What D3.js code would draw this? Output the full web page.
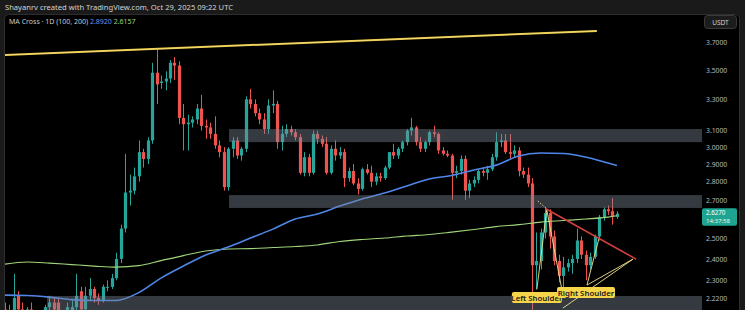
<!DOCTYPE html>
<html>
<head>
<meta charset="utf-8">
<script src="https://cdn.jsdelivr.net/npm/d3@7"></script>
<style>
body { margin: 0; background: #1a1a1a; overflow: hidden; }
text { font-family: "Noto Sans", sans-serif; }
</style>
</head>
<body>
<div id="chart"></div>
<script>

// daily candles, one per day from firstDay
var firstDay = "2025-06-14";
var opens  = [2.17,2.16,2.15,2.23,2.17,2.15,2.17,2.10,2.06,1.96,2.18,2.20,2.20,2.13,2.12,2.14,2.18,2.25,2.17,2.23,2.26,2.22,2.21,2.27,2.27,2.31,2.40,2.55,2.74,2.75,
              2.83,2.97,2.93,3.04,3.48,3.41,3.42,3.44,3.55,3.53,3.18,3.14,3.15,3.17,3.24,3.13,3.12,3.08,3.01,2.97,2.77,2.99,3.04,2.95,2.99,3.30,3.27,3.21,3.17,3.11,
              3.26,3.27,3.03,3.08,3.11,3.09,3.06,2.85,2.94,2.85,3.08,3.05,3.02,2.85,2.99,2.95,2.97,2.82,2.86,2.79,2.76,2.87,2.85,2.80,2.83,2.82,2.88,2.97,2.95,2.99,
              3.03,3.10,3.12,3.03,2.99,3.03,3.09,3.08,2.98,2.96,2.95,2.85,2.86,2.93,2.75,2.79,2.81,2.86,2.85,2.87,2.94,3.03,3.04,2.97,2.96,2.98,2.86,2.84,2.79,2.37,
              2.39,2.53,2.63,2.51,2.39,2.32,2.36,2.38,2.40,2.49,2.42,2.37,2.41,2.51,2.61,2.65,2.64,2.61];
var highs  = [2.20,2.19,2.33,2.25,2.20,2.18,2.20,2.13,2.09,2.19,2.23,2.22,2.22,2.16,2.20,2.21,2.33,2.27,2.27,2.31,2.27,2.24,2.28,2.30,2.33,2.43,2.57,2.96,2.84,2.88,
              3.04,2.99,3.06,3.55,3.65,3.46,3.49,3.57,3.59,3.56,3.27,3.20,3.19,3.27,3.33,3.17,3.15,3.19,3.04,3.00,3.00,3.06,3.06,3.00,3.32,3.37,3.30,3.24,3.21,3.30,
              3.36,3.29,3.13,3.14,3.13,3.11,3.08,2.97,2.96,3.10,3.10,3.07,3.06,3.01,3.04,3.00,2.99,2.88,2.90,2.82,2.88,2.90,2.89,2.85,2.85,2.89,2.97,3.02,3.00,3.04,
              3.11,3.18,3.13,3.06,3.04,3.10,3.13,3.09,3.00,2.98,2.96,2.89,2.95,2.95,2.81,2.83,2.87,2.88,2.89,2.96,3.09,3.08,3.08,3.08,3.01,3.00,2.88,2.88,2.82,2.53,
              2.55,2.66,2.65,2.54,2.42,2.41,2.40,2.42,2.55,2.51,2.44,2.43,2.52,2.62,2.66,2.67,2.71,2.64];
var lows   = [2.13,2.12,2.14,2.14,2.12,2.12,2.08,2.03,1.90,1.92,2.13,2.15,2.10,2.10,2.11,2.13,2.16,2.15,2.16,2.21,2.20,2.19,2.20,2.25,2.26,2.30,2.38,2.53,2.67,2.73,
              2.80,2.88,2.90,3.02,3.27,3.37,3.36,3.41,3.43,3.14,2.98,2.98,3.12,3.14,3.10,3.05,3.05,2.99,2.94,2.75,2.75,2.94,2.93,2.92,2.97,3.24,3.19,3.14,3.08,3.08,
              3.21,2.99,2.98,3.06,3.07,3.04,2.84,2.83,2.83,2.84,3.02,3.00,2.84,2.84,2.92,2.93,2.77,2.80,2.78,2.73,2.75,2.84,2.77,2.78,2.80,2.81,2.87,2.93,2.93,2.97,
              3.01,3.07,3.01,2.97,2.97,3.01,3.06,2.96,2.95,2.94,2.70,2.82,2.84,2.70,2.71,2.77,2.79,2.83,2.81,2.86,2.92,3.00,2.96,2.93,2.94,2.83,2.82,2.77,1.77,2.26,
              2.35,2.50,2.45,2.37,2.29,2.22,2.34,2.33,2.38,2.40,2.30,2.35,2.40,2.49,2.59,2.62,2.57,2.60];
var closes = [2.16,2.15,2.22,2.17,2.15,2.17,2.10,2.06,1.96,2.18,2.20,2.17,2.13,2.12,2.18,2.18,2.23,2.17,2.23,2.26,2.22,2.21,2.27,2.27,2.31,2.40,2.55,2.74,2.75,2.83,
              2.97,2.93,3.04,3.48,3.40,3.42,3.44,3.55,3.53,3.18,3.14,3.15,3.17,3.24,3.13,3.12,3.08,3.01,2.97,2.77,2.99,3.04,2.95,2.99,3.30,3.27,3.21,3.17,3.11,3.26,
              3.27,3.03,3.08,3.11,3.09,3.06,2.85,2.94,2.85,3.08,3.05,3.02,2.85,2.99,2.95,2.97,2.82,2.86,2.79,2.76,2.87,2.85,2.80,2.83,2.82,2.88,2.97,2.95,2.99,3.03,
              3.10,3.12,3.03,2.99,3.03,3.09,3.08,2.98,2.96,2.95,2.85,2.86,2.93,2.75,2.79,2.81,2.86,2.85,2.87,2.94,3.03,3.04,2.97,2.96,2.98,2.86,2.84,2.79,2.37,2.39,
              2.53,2.63,2.51,2.39,2.32,2.36,2.38,2.40,2.49,2.42,2.37,2.41,2.51,2.61,2.65,2.64,2.61,2.627];

// moving averages
var maDates = ["2025-06-14","2025-06-19","2025-06-24","2025-06-29","2025-07-04","2025-07-09","2025-07-14","2025-07-19","2025-07-24","2025-07-29",
               "2025-08-03","2025-08-08","2025-08-13","2025-08-18","2025-08-23","2025-08-28","2025-09-02","2025-09-07","2025-09-12","2025-09-17",
               "2025-09-22","2025-09-27","2025-10-02","2025-10-07","2025-10-12","2025-10-17","2025-10-22","2025-10-27","2025-10-29"];
var ma100 = [2.233,2.231,2.224,2.213,2.209,2.209,2.244,2.310,2.366,2.419,2.458,2.502,2.547,2.599,2.625,2.667,2.705,2.737,2.776,2.815,
             2.835,2.866,2.894,2.947,2.965,2.962,2.941,2.906,2.892];
var ma200 = [2.375,2.385,2.380,2.373,2.366,2.361,2.368,2.392,2.416,2.438,2.448,2.450,2.455,2.460,2.468,2.485,2.495,2.502,2.512,2.520,
             2.532,2.545,2.560,2.570,2.583,2.591,2.599,2.609,2.6157];

var priceTicks = [3.7, 3.5, 3.3, 3.1, 3.0, 2.9, 2.8, 2.7, 2.5, 2.4, 2.3, 2.22];

// drawings
var zones = [
  {from: "2025-08-03T05:00", top: 3.110, bottom: 3.030},
  {from: "2025-08-03T05:00", top: 2.726, bottom: 2.657},
  {from: "2025-06-23T12:00", top: 2.229, bottom: 2.10}
];
var topTrend = [["2025-06-14T02:00", 3.605], ["2025-10-24T12:00", 3.782]];
var neckline = [["2025-10-13T02:00", 2.653], ["2025-11-02T07:00", 2.399]];
var patternLines = [
  [["2025-10-11T02:00", 2.258], ["2025-10-13T07:00", 2.648], ["2025-10-16T22:00", 2.233]],
  [["2025-10-22T07:00", 2.278], ["2025-10-25T00:00", 2.502]],
  [["2025-10-22T07:00", 2.278], ["2025-11-01T14:00", 2.399]],
  [["2025-10-16T22:00", 2.176], ["2025-11-01T14:00", 2.399]]
];
var dottedLine = [["2025-10-11T07:00", 2.694], ["2025-10-13T07:00", 2.653]];
var labels = [
  {text: "Left Shoulder", at: "2025-10-11T02:00", price: 2.222},
  {text: "Right Shoulder", at: "2025-10-22T02:00", price: 2.244}
];

var wd = 745, ht = 310;
var parseDay = d3.utcParse("%Y-%m-%d");
var parseHour = d3.utcParse("%Y-%m-%dT%H:%M");
var day0 = parseDay(firstDay);

var candles = opens.map(function (o, i) {
  return {date: d3.utcDay.offset(day0, i), o: o, h: highs[i], l: lows[i], c: closes[i]};
});

var x = d3.scaleUtc()
  .domain([day0, d3.utcHour.offset(day0, 155 * 24 + 14)])
  .range([4.6, 700]);
var y = d3.scaleLog()
  .domain([2.22, 3.7])
  .range([298, 42]);

var svg = d3.select('#chart')
  .append("svg")
  .attr("width", wd)
  .attr("height", ht);

// header
svg.append("text")
  .attr("x", 5).attr("y", 10)
  .attr("font-size", 7.6)
  .attr("fill", "#d4d4d4")
  .text("Shayanrv created with TradingView.com, Oct 29, 2025 09:22 UTC");

// panel
svg.append("rect")
  .attr("x", 4.5).attr("y", 14.5)
  .attr("width", 735).attr("height", 300)
  .attr("rx", 4)
  .attr("fill", "#000")
  .attr("stroke", "#2e2e2e");

svg.append("clipPath").attr("id", "plotClip")
  .append("rect")
  .attr("x", 5).attr("y", 15)
  .attr("width", 697).attr("height", 295);

var plot = svg.append("g").attr("clip-path", "url(#plotClip)");

// candles
var cw = 3.2;
var candle = plot.selectAll('.candle')
  .data(candles)
  .enter()
  .append('g')
  .attr('class', 'candle')
  .attr('fill', function (d) { return d.c >= d.o ? "#26a69a" : "#ef5350"; })
  .attr('stroke', function (d) { return d.c >= d.o ? "#26a69a" : "#ef5350"; });

candle.append('line')
  .attr('x1', function (d) { return Math.round(x(d.date)) + 0.5; })
  .attr('x2', function (d) { return Math.round(x(d.date)) + 0.5; })
  .attr('y1', function (d) { return y(d.h); })
  .attr('y2', function (d) { return y(d.l); })
  .attr('stroke-width', 1);

candle.append('rect')
  .attr('x', function (d) { return Math.round(x(d.date)) + 0.5 - cw / 2; })
  .attr('y', function (d) { return y(Math.max(d.o, d.c)); })
  .attr('width', cw)
  .attr('height', function (d) { return Math.max(1, Math.abs(y(d.o) - y(d.c))); })
  .attr('stroke', 'none');

// moving averages
var maLine = d3.line()
  .x(function (d) { return x(parseDay(d[0])); })
  .y(function (d) { return y(d[1]); })
  .curve(d3.curveMonotoneX);

plot.append('path')
  .datum(d3.zip(maDates, ma200))
  .attr('d', maLine)
  .attr('fill', 'none')
  .attr('stroke', '#9fd47a')
  .attr('stroke-width', 1.1);

plot.append('path')
  .datum(d3.zip(maDates, ma100))
  .attr('d', maLine)
  .attr('fill', 'none')
  .attr('stroke', '#4f86e8')
  .attr('stroke-width', 1.6);

// zones
plot.selectAll('.zone')
  .data(zones)
  .enter()
  .append('rect')
  .attr('class', 'zone')
  .attr('x', function (d) { return x(parseHour(d.from)); })
  .attr('y', function (d) { return y(d.top); })
  .attr('width', function (d) { return 702 - x(parseHour(d.from)); })
  .attr('height', function (d) { return y(d.bottom) - y(d.top); })
  .attr('fill', 'rgba(125,138,152,0.42)');

var drawLine = d3.line()
  .x(function (d) { return x(parseHour(d[0])); })
  .y(function (d) { return y(d[1]); });

// top trend line
plot.append('path')
  .datum(topTrend)
  .attr('d', drawLine)
  .attr('stroke', '#e9c53b')
  .attr('stroke-width', 2)
  .attr('fill', 'none');
plot.append('path')
  .datum(topTrend)
  .attr('d', drawLine)
  .attr('stroke', '#fff6c8')
  .attr('stroke-width', 0.7)
  .attr('opacity', 0.6)
  .attr('fill', 'none');

// pattern
plot.selectAll('.pattern')
  .data(patternLines)
  .enter()
  .append('path')
  .attr('class', 'pattern')
  .attr('d', drawLine)
  .attr('stroke', '#f3e28e')
  .attr('stroke-width', 0.9)
  .attr('fill', 'none');

plot.append('path')
  .datum(dottedLine)
  .attr('d', drawLine)
  .attr('stroke', '#f3e28e')
  .attr('stroke-width', 0.9)
  .attr('stroke-dasharray', '1.5,1.5')
  .attr('fill', 'none');

plot.append('path')
  .datum(neckline)
  .attr('d', drawLine)
  .attr('stroke', '#d2403f')
  .attr('stroke-width', 1.6)
  .attr('fill', 'none');

var lab = plot.selectAll('.patLabel')
  .data(labels)
  .enter()
  .append('g')
  .attr('class', 'patLabel')
  .attr('transform', function (d) { return 'translate(' + x(parseHour(d.at)) + ',' + y(d.price) + ')'; });
lab.append('rect')
  .attr('x', function (d) { return d.text.length === 13 ? -25 : -29; })
  .attr('y', -5.5)
  .attr('width', function (d) { return d.text.length === 13 ? 50 : 58; })
  .attr('height', 11)
  .attr('rx', 2)
  .attr('fill', '#f7d54a');
lab.append('text')
  .attr('text-anchor', 'middle')
  .attr('y', 3)
  .attr('font-size', 7.8)
  .attr('font-weight', 600)
  .attr('fill', '#1a1a1a')
  .text(function (d) { return d.text; });

// legend
var legend = svg.append('text')
  .attr('x', 9).attr('y', 24)
  .attr('font-size', 7)
  .attr('fill', '#c8c8c8');
legend.append('tspan').text("MA Cross \u00b7 1D (100, 200) ");
legend.append('tspan').attr('fill', '#6f93e6').text(d3.format(".4f")(ma100[ma100.length - 1]) + " ");
legend.append('tspan').attr('fill', '#9fd47a').text(d3.format(".4f")(ma200[ma200.length - 1]));

// price axis
var axis = svg.append('g')
  .attr('transform', 'translate(702,0)')
  .call(d3.axisRight(y).tickValues(priceTicks).tickFormat(d3.format(".4f")).tickSize(0).tickPadding(4));
axis.select('.domain').remove();
axis.selectAll('text')
  .attr('font-size', 6.8)
  .attr('fill', '#b8b8b8')
  .style('font-family', '"Noto Sans", sans-serif');

// currency box
svg.append('rect')
  .attr('x', 704.5).attr('y', 15.5)
  .attr('width', 32).attr('height', 13)
  .attr('rx', 3)
  .attr('fill', '#1c1c1c')
  .attr('stroke', '#3a3a3a');
svg.append('text')
  .attr('x', 720.5).attr('y', 24.5)
  .attr('text-anchor', 'middle')
  .attr('font-size', 6.5)
  .attr('fill', '#d0d0d0')
  .text("USDT");

// last price badge
var last = candles[candles.length - 1];
var badge = svg.append('g').attr('transform', 'translate(702,' + y(last.c) + ')');
badge.append('rect')
  .attr('x', 0).attr('y', -5.5)
  .attr('width', 35).attr('height', 17.5)
  .attr('rx', 2)
  .attr('fill', '#1ea592');
badge.append('text')
  .attr('x', 4).attr('y', 1.8)
  .attr('font-size', 6.2)
  .attr('fill', '#fff')
  .text(d3.format(".4f")(last.c));
badge.append('text')
  .attr('x', 4).attr('y', 9.8)
  .attr('font-size', 6)
  .attr('fill', '#e6f5f2')
  .text("14:37:58");

</script>
</body>
</html>
